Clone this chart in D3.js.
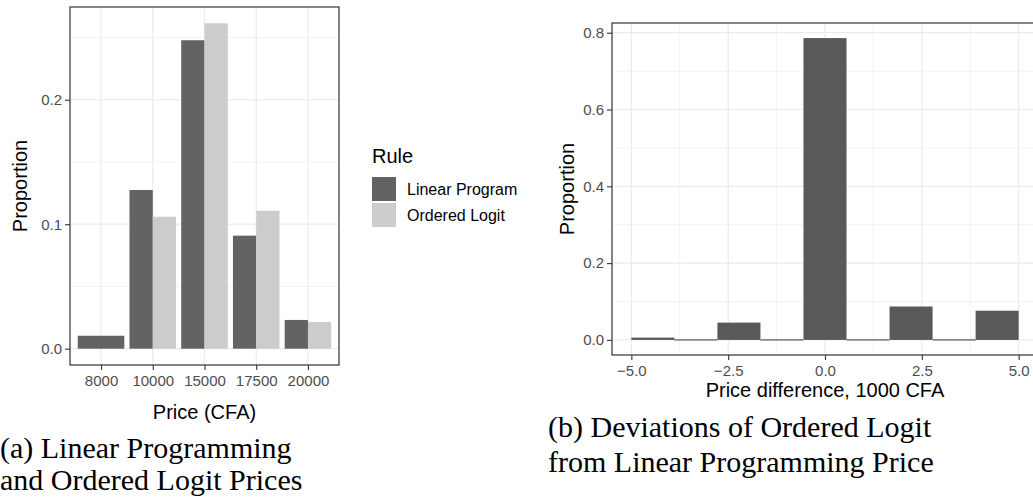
<!DOCTYPE html>
<html>
<head>
<meta charset="utf-8">
<title>Price comparison</title>
<script src="https://cdn.jsdelivr.net/npm/d3@7"></script>
<style>
    body { margin: 0; background: #fff; }
    text { font-family: "Liberation Sans", Arial, sans-serif; }
    .tick-label { fill: #4d4d4d; font-size: 15px; }
    .axis-title { fill: #000; font-size: 20px; }
    .caption { font-family: "Liberation Serif", "Times New Roman", serif; font-size: 30px; fill: #000; }
</style>
</head>
<body>
<script>
    // panel (a): proportion of villages by price and rule
    var prices = ["8000", "10000", "15000", "17500", "20000"]
    var linearProgram = [0.0104, 0.1275, 0.2478, 0.0908, 0.0231]
    var orderedLogit = [null, 0.106, 0.2614, 0.1108, 0.0215]
    var rules = ["Linear Program", "Ordered Logit"]
    var ruleColors = ["#636363", "#cccccc"]

    // panel (b): histogram of price differences (1000 CFA)
    var binEdges = [-5.000, -3.889, -2.778, -1.667, -0.556, 0.556, 1.667, 2.778, 3.889, 5.000]
    var binProportion = [0.006, 0, 0.045, 0, 0.786, 0, 0.087, 0, 0.076]
    var diffTicks = [-5, -2.5, 0, 2.5, 5]

    var width = 1033
    var height = 502

    var svg = d3.select("body").append("svg")
        .attr("width", width)
        .attr("height", height)

    function minusFmt(v) {
        return d3.format(".1f")(v).replace("-", "\u2212")
    }

    function styleAxis(ax) {
        ax.select(".domain").remove()
        ax.selectAll("line").attr("stroke", "#333333").attr("stroke-width", 1.1)
        ax.selectAll("text").attr("class", "tick-label").attr("font-family", null).attr("font-size", null).attr("fill", null)
    }

    // ---------- panel (a) ----------
    var a = { left: 70, right: 339, top: 7, bottom: 365 }
    var x1 = d3.scalePoint().domain(prices).range([a.left, a.right]).padding(0.6)
    var y1 = d3.scaleLinear().domain([-0.0131, 0.2745]).range([a.bottom, a.top])
    var bw = x1.step() * 0.9

    var gA = svg.append("g")
    // minor grid
    gA.selectAll(".minor").data([0.05, 0.15, 0.25]).enter().append("line")
        .attr("x1", a.left).attr("x2", a.right)
        .attr("y1", d => y1(d)).attr("y2", d => y1(d))
        .attr("stroke", "#ebebeb").attr("stroke-width", 0.6)
    // major grid
    gA.selectAll(".majy").data([0, 0.1, 0.2]).enter().append("line")
        .attr("x1", a.left).attr("x2", a.right)
        .attr("y1", d => y1(d)).attr("y2", d => y1(d))
        .attr("stroke", "#ebebeb").attr("stroke-width", 1.2)
    gA.selectAll(".majx").data(prices).enter().append("line")
        .attr("y1", a.top).attr("y2", a.bottom)
        .attr("x1", d => x1(d)).attr("x2", d => x1(d))
        .attr("stroke", "#ebebeb").attr("stroke-width", 1.2)

    // bars (dodged, a lone bar takes the full width)
    prices.forEach(function (p, i) {
        var vals = [linearProgram[i], orderedLogit[i]]
        var present = vals.map((v, j) => j).filter(j => vals[j] != null)
        var w = bw / present.length
        present.forEach(function (j, k) {
            gA.append("rect")
                .attr("x", x1(p) - bw / 2 + k * w)
                .attr("width", w)
                .attr("y", y1(vals[j]))
                .attr("height", y1(0) - y1(vals[j]))
                .attr("fill", ruleColors[j])
        })
    })

    gA.append("rect")
        .attr("x", a.left).attr("y", a.top)
        .attr("width", a.right - a.left).attr("height", a.bottom - a.top)
        .attr("fill", "none").attr("stroke", "#333333").attr("stroke-width", 1.2)

    styleAxis(gA.append("g").attr("transform", "translate(" + a.left + ",0)")
        .call(d3.axisLeft(y1).tickValues([0, 0.1, 0.2]).tickFormat(d3.format(".1f")).tickSize(5).tickPadding(3)))
    styleAxis(gA.append("g").attr("transform", "translate(0," + a.bottom + ")")
        .call(d3.axisBottom(x1).tickSize(5).tickPadding(5)))

    gA.append("text").attr("class", "axis-title")
        .attr("x", (a.left + a.right) / 2).attr("y", 419)
        .attr("text-anchor", "middle").text("Price (CFA)")
    gA.append("text").attr("class", "axis-title")
        .attr("transform", "translate(27," + (a.top + a.bottom) / 2 + ") rotate(-90)")
        .attr("text-anchor", "middle").text("Proportion")

    // legend
    var lg = svg.append("g").attr("transform", "translate(372,163)")
    lg.append("text").attr("font-size", "20px").attr("fill", "#000").text("Rule")
    rules.forEach(function (r, i) {
        lg.append("rect")
            .attr("x", 0).attr("y", 14 + i * 26)
            .attr("width", 24).attr("height", 24)
            .attr("fill", ruleColors[i])
        lg.append("text")
            .attr("x", 35).attr("y", 32 + i * 26)
            .attr("font-size", "16px").attr("fill", "#000")
            .text(r)
    })

    // ---------- panel (b) ----------
    var b = { left: 612, right: 1038, top: 23, bottom: 355 }
    var x2 = d3.scaleLinear().domain([-5.5, 5.5]).range([b.left, b.right])
    var y2 = d3.scaleLinear().domain([-0.0393, 0.8253]).range([b.bottom, b.top])
    var gB = svg.append("g")

    gB.selectAll(".minx").data([-3.75, -1.25, 1.25, 3.75]).enter().append("line")
        .attr("y1", b.top).attr("y2", b.bottom)
        .attr("x1", d => x2(d)).attr("x2", d => x2(d))
        .attr("stroke", "#ebebeb").attr("stroke-width", 0.6)
    gB.selectAll(".miny").data([0.1, 0.3, 0.5, 0.7]).enter().append("line")
        .attr("x1", b.left).attr("x2", b.right)
        .attr("y1", d => y2(d)).attr("y2", d => y2(d))
        .attr("stroke", "#ebebeb").attr("stroke-width", 0.6)
    gB.selectAll(".majx").data(diffTicks).enter().append("line")
        .attr("y1", b.top).attr("y2", b.bottom)
        .attr("x1", d => x2(d)).attr("x2", d => x2(d))
        .attr("stroke", "#ebebeb").attr("stroke-width", 1.2)
    gB.selectAll(".majy").data([0, 0.2, 0.4, 0.6, 0.8]).enter().append("line")
        .attr("x1", b.left).attr("x2", b.right)
        .attr("y1", d => y2(d)).attr("y2", d => y2(d))
        .attr("stroke", "#ebebeb").attr("stroke-width", 1.2)

    binProportion.forEach(function (v, i) {
        var h = y2(0) - y2(v)
        gB.append("rect")
            .attr("x", x2(binEdges[i]))
            .attr("width", x2(binEdges[i + 1]) - x2(binEdges[i]))
            .attr("y", v > 0 ? y2(v) : y2(0) - 0.6)
            .attr("height", v > 0 ? h : 1.2)
            .attr("fill", "#595959")
    })

    gB.append("rect")
        .attr("x", b.left).attr("y", b.top)
        .attr("width", b.right - b.left).attr("height", b.bottom - b.top)
        .attr("fill", "none").attr("stroke", "#333333").attr("stroke-width", 1.2)

    styleAxis(gB.append("g").attr("transform", "translate(" + b.left + ",0)")
        .call(d3.axisLeft(y2).tickValues([0, 0.2, 0.4, 0.6, 0.8]).tickFormat(d3.format(".1f")).tickSize(5).tickPadding(3)))
    styleAxis(gB.append("g").attr("transform", "translate(0," + b.bottom + ")")
        .call(d3.axisBottom(x2).tickValues(diffTicks).tickFormat(minusFmt).tickSize(5).tickPadding(5)))

    gB.append("text").attr("class", "axis-title")
        .attr("x", 825).attr("y", 397)
        .attr("text-anchor", "middle").text("Price difference, 1000 CFA")
    gB.append("text").attr("class", "axis-title")
        .attr("transform", "translate(574," + (b.top + b.bottom) / 2 + ") rotate(-90)")
        .attr("text-anchor", "middle").text("Proportion")

    // ---------- captions ----------
    var capA = ["(a) Linear Programming", "and Ordered Logit Prices"]
    var capB = ["(b) Deviations of Ordered Logit", "from Linear Programming Price"]
    capA.forEach(function (t, i) {
        svg.append("text").attr("class", "caption").attr("x", 0).attr("y", 458 + i * 32).text(t)
    })
    capB.forEach(function (t, i) {
        svg.append("text").attr("class", "caption").attr("x", 548).attr("y", 437 + i * 35).text(t)
    })
</script>
</body>
</html>
